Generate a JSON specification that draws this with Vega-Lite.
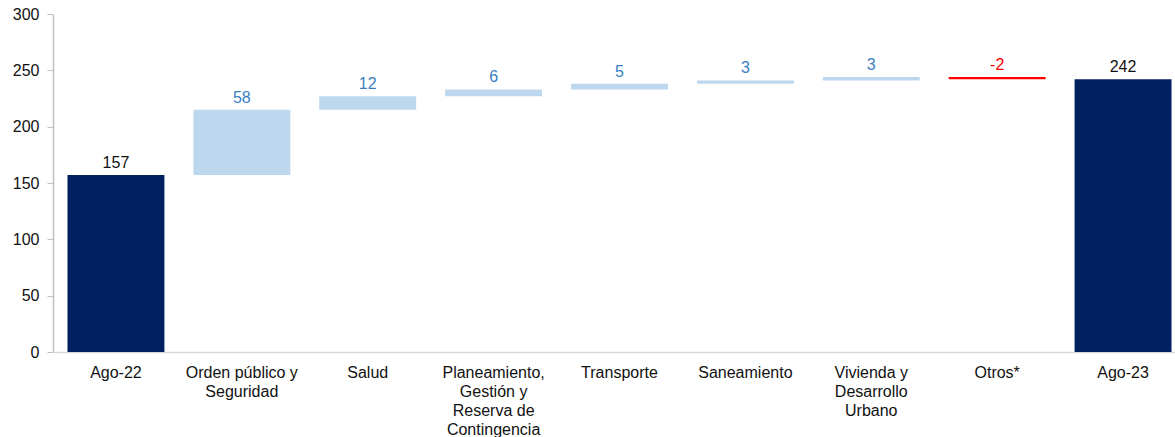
{
  "$schema": "https://vega.github.io/schema/vega-lite/v6.json",
  "width": 1133,
  "height": 338,
  "autosize": {"type": "none"},
  "padding": {"left": 53, "top": 14, "right": 0, "bottom": 85},
  "background": "white",
  "config": {
    "view": {"stroke": null},
    "font": "Liberation Sans",
    "text": {"font": "Liberation Sans"}
  },
  "data": {
    "values": [
      {"category": "Ago-22", "start": 0, "end": 157, "value": "157", "kind": "total"},
      {"category": "Orden público y Seguridad", "start": 157, "end": 215, "value": "58", "kind": "up"},
      {"category": "Salud", "start": 215, "end": 227, "value": "12", "kind": "up"},
      {"category": "Planeamiento, Gestión y Reserva de Contingencia", "start": 227, "end": 233, "value": "6", "kind": "up"},
      {"category": "Transporte", "start": 233, "end": 238, "value": "5", "kind": "up"},
      {"category": "Saneamiento", "start": 238, "end": 241, "value": "3", "kind": "up"},
      {"category": "Vivienda y Desarrollo Urbano", "start": 241, "end": 244, "value": "3", "kind": "up"},
      {"category": "Otros*", "start": 244, "end": 242, "value": "-2", "kind": "down"},
      {"category": "Ago-23", "start": 0, "end": 242, "value": "242", "kind": "total"}
    ]
  },
  "transform": [{"calculate": "max(datum.start, datum.end)", "as": "top"}],
  "encoding": {
    "x": {
      "field": "category",
      "type": "nominal",
      "sort": null,
      "scale": {"paddingInner": 0.23, "paddingOuter": 0.115},
      "axis": {
        "title": null,
        "labelAngle": 0,
        "ticks": false,
        "domainColor": "#d9d9d9",
        "domainWidth": 1.5,
        "labelFont": "Liberation Sans",
        "labelFontSize": 16,
        "labelColor": "#111111",
        "labelPadding": 12,
        "labelBaseline": "top",
        "labelLineHeight": 19,
        "labelLimit": 200,
        "labelExpr": "datum.value == 'Orden público y Seguridad' ? ['Orden público y', 'Seguridad'] : datum.value == 'Planeamiento, Gestión y Reserva de Contingencia' ? ['Planeamiento,', 'Gestión y', 'Reserva de', 'Contingencia'] : datum.value == 'Vivienda y Desarrollo Urbano' ? ['Vivienda y', 'Desarrollo', 'Urbano'] : datum.value"
      }
    }
  },
  "layer": [
    {
      "mark": {"type": "bar"},
      "encoding": {
        "y": {
          "field": "start",
          "type": "quantitative",
          "scale": {"domain": [0, 300], "nice": false},
          "axis": {
            "title": null,
            "values": [0, 50, 100, 150, 200, 250, 300],
            "grid": false,
            "domainColor": "#c0c0c0",
            "domainWidth": 1.5,
            "tickColor": "#c0c0c0",
            "tickSize": 6,
            "labelFont": "Liberation Sans",
            "labelFontSize": 16,
            "labelColor": "#111111",
            "labelPadding": 8
          }
        },
        "y2": {"field": "end"},
        "color": {
          "field": "kind",
          "type": "nominal",
          "scale": {"domain": ["total", "up", "down"], "range": ["#002060", "#bdd7ee", "#ff0000"]},
          "legend": null
        }
      }
    },
    {
      "mark": {"type": "text", "baseline": "alphabetic", "dy": -7, "fontSize": 16, "font": "Liberation Sans"},
      "encoding": {
        "y": {"field": "top", "type": "quantitative"},
        "text": {"field": "value"},
        "color": {
          "field": "kind",
          "type": "nominal",
          "scale": {"domain": ["total", "up", "down"], "range": ["#111111", "#3a7fc1", "#ff0000"]},
          "legend": null
        }
      }
    }
  ],
  "resolve": {"scale": {"color": "independent"}}
}
